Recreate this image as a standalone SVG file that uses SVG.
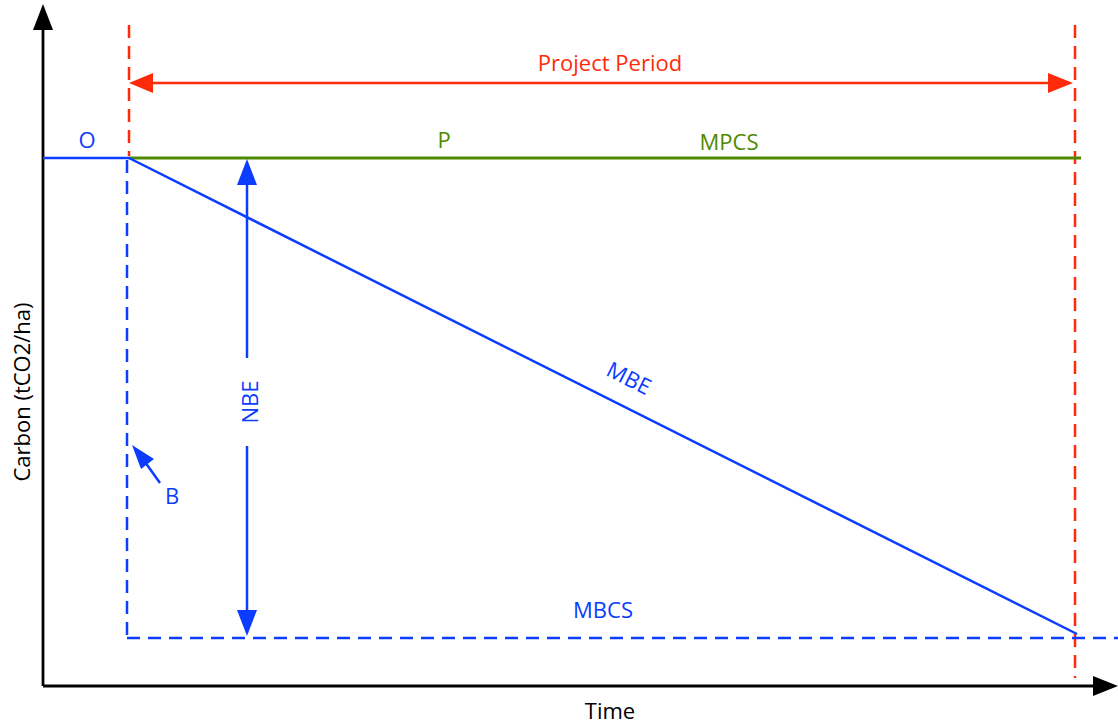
<svg xmlns="http://www.w3.org/2000/svg" width="1118" height="726" viewBox="0 0 1118 726">
<style>
text{font-family:"Open Sans","Liberation Sans",sans-serif;font-size:22px;text-anchor:middle}
.blue{fill:#0b3cff}.red{fill:#ff2a0a}.green{fill:#4d8a00}.black{fill:#000}
.ax{stroke:#000;stroke-width:2.8;fill:none}
.rd{stroke:#ff2a0a;stroke-width:2.5;stroke-dasharray:13,8;fill:none}
.bd{stroke:#0b3cff;stroke-width:2.5;stroke-dasharray:13,8;fill:none}
.bl{stroke:#0b3cff;stroke-width:2.5;fill:none}
.gl{stroke:#4d8a00;stroke-width:3;fill:none}
.rl{stroke:#ff2a0a;stroke-width:2.5;fill:none}
</style>
<g id="axes">
<line class="ax" x1="43" y1="28" x2="43" y2="686"/>
<path d="M33,30L43,4L53,30z" fill="#000"/>
<line class="ax" x1="43" y1="686" x2="1094" y2="686"/>
<path d="M1093,676L1118,686L1093,696z" fill="#000"/>
</g>
<g id="connectors">
<line class="rd" x1="129" y1="25" x2="129" y2="156"/>
<line class="rd" x1="1075" y1="25" x2="1075" y2="678"/>
<line class="rl" x1="150" y1="83" x2="1053" y2="83"/>
<path d="M129,83L153,73L153,93z" fill="#ff2a0a"/>
<path d="M1073,83L1048,73L1048,93z" fill="#ff2a0a"/>
<line class="bl" x1="43" y1="158" x2="129" y2="158"/>
<line class="gl" x1="129" y1="158" x2="1081" y2="158"/>
<line class="bl" x1="129" y1="158" x2="1077" y2="634"/>
<line class="bd" x1="127" y1="160" x2="127" y2="638"/>
<line class="bd" x1="127" y1="638" x2="1118" y2="638"/>
<line class="bl" x1="247" y1="180" x2="247" y2="358"/>
<path d="M247,159L237,185L257,185z" fill="#0b3cff"/>
<line class="bl" x1="247" y1="446" x2="247" y2="612"/>
<path d="M247,636L237,610L257,610z" fill="#0b3cff"/>
<line class="bl" x1="160" y1="483" x2="145" y2="462"/>
<path d="M132,445L154,459L141,469z" fill="#0b3cff"/>
</g>
<g id="labels">
<text class="red" x="610" y="71">Project Period</text>
<text class="blue" x="87" y="148">O</text>
<text class="green" x="444" y="148">P</text>
<text class="green" x="729" y="150">MPCS</text>
<text class="blue" x="603" y="618">MBCS</text>
<text class="blue" x="172" y="504">B</text>
<text class="blue" transform="translate(629,378) rotate(26.7)" y="8">MBE</text>
<text class="blue" transform="translate(250,402) rotate(-90)" y="8">NBE</text>
<text class="black" x="610" y="719">Time</text>
<text class="black" transform="translate(22,392) rotate(-90)" y="8">Carbon (tCO2/ha)</text>
</g>
</svg>
